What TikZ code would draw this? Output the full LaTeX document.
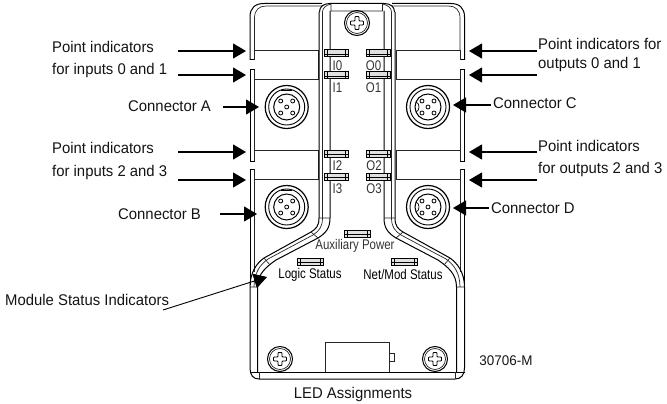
\documentclass[tikz,border=0pt]{standalone}
\usepackage{fontspec}
\setmainfont{Liberation Sans}
\newfontfamily\labfont[FakeStretch=0.96]{Liberation Sans}
\newfontfamily\devfont[FakeStretch=0.82]{Liberation Sans}
\usetikzlibrary{arrows.meta}
\tikzset{
  lab/.style={inner sep=0pt,font=\labfont\fontsize{15.5}{17}\selectfont,text=black!92},
  ldl/.style={lab,anchor=west},
  dev/.style={inner sep=0pt,font=\devfont\fontsize{14}{16}\selectfont,text=black!80},
  arr/.style={line width=1.1pt,-{Triangle[length=13pt,width=15pt]},shorten >=0pt},
  ln/.style={line width=.7pt,black!85},
  thk/.style={line width=1pt,black}
}
\newcommand{\ledbar}[4]{%
  \draw[line width=1pt,fill=black!12] (#1,#2) rectangle (#3,#4);
  \draw[line width=.7pt] (#1+3,#2) -- (#1+3,#4) (#3-3,#2) -- (#3-3,#4) (#1,{(#2+#4)/2+1}) -- (#3,{(#2+#4)/2+1});}
\newcommand{\screw}[2]{%
  \draw[thk] (#1,#2) circle (12.5);
  \draw[ln] (#1,#2) circle (10.5);
  \draw[line width=.9pt,fill=white,rounded corners=.8pt] (#1-2,#2-6.5) -- (#1+2,#2-6.5) -- (#1+2,#2-2) -- (#1+6.5,#2-2) -- (#1+6.5,#2+2) -- (#1+2,#2+2) -- (#1+2,#2+6.5) -- (#1-2,#2+6.5) -- (#1-2,#2+2) -- (#1-6.5,#2+2) -- (#1-6.5,#2-2) -- (#1-2,#2-2) -- cycle;}
\newcommand{\conn}[3]{%
  \draw[line width=1.2pt] (#1,#2) circle (21.5);
  \draw[line width=.9pt] (#1,#2) circle (18);
  \draw[line width=1pt] (#1,#2) circle (13);
  \foreach \dx/\dy in {0/0,-6/-6,6/-6,-6/6,6/6}{\draw[line width=.8pt] (#1+\dx,#2+\dy) circle (2);}
  #3}
\begin{document}
\begin{tikzpicture}[x=1pt,y=-1pt]
\useasboundingbox (0,0) rectangle (667,404);
% housing outline
\draw[thk] (250,60) -- (250,17) .. controls (250,8) and (255,3.5) .. (264,3.5) -- (322,3.5);
\draw[thk] (464.5,60) -- (464.5,17) .. controls (464.5,8) and (459.5,3.5) .. (450.5,3.5) -- (392,3.5);
\draw[ln] (254.5,50) -- (254.5,18) .. controls (254.5,10) and (259,6) .. (266,6) -- (322,6);
\draw[ln] (460,50) -- (460,18) .. controls (460,10) and (455.5,6) .. (448.5,6) -- (392,6);
% side notches
\draw[thk] (250,60) -- (254.5,60) (250,70) -- (254.5,70) (250,70) -- (250,161) -- (254.5,161) (250,169) -- (254.5,169) (250,169) -- (250,285);
\draw[ln] (254.5,60) -- (254.5,50) (254.5,70) -- (254.5,161) (254.5,169) -- (254.5,272);
\draw[thk] (464.5,60) -- (460,60) (464.5,70) -- (460,70) (464.5,70) -- (464.5,161) -- (460,161) (464.5,169) -- (460,169) (464.5,169) -- (464.5,285);
\draw[ln] (460,50) -- (460,60) (460,70) -- (460,161) (460,169) -- (460,272);
% panels
\draw[ln] (254.5,50) -- (318,50) -- (318,79) -- (254.5,79);
\draw[ln] (254.5,150) -- (318,150) -- (318,179.5) -- (254.5,179.5);
\draw[ln] (460,50) -- (396,50) -- (396,79) -- (460,79);
\draw[ln] (460,150) -- (396,150) -- (396,179.5) -- (460,179.5);
% centre strip
\draw[thk] (319.5,12) .. controls (319.5,7) and (323,3.5) .. (330,3.5) -- (384,3.5) .. controls (391,3.5) and (394.5,7) .. (394.5,12);
\draw[ln] (322.5,12) .. controls (322.5,8) and (326,5) .. (331,4) (331,4) -- (331,11) -- (382.5,11) -- (382.5,4) (382.5,4) .. controls (388,5) and (391.5,8) .. (391.5,12);
\draw[thk] (319,12) -- (319,218) .. controls (319,226) and (316,229) .. (311,232) -- (264,258) .. controls (257,263) and (250,272) .. (250,287);
\draw[ln] (322.5,12) -- (322.5,218);
\draw[thk] (330,11) -- (330,218) .. controls (330,228) and (326,233) .. (318,238) -- (276,260) .. controls (266,267) and (257.5,274) .. (257.5,287) -- (257.5,372);
\draw[ln] (322.5,218) .. controls (322.5,227) and (319,231) .. (313,235) -- (268,259) .. controls (261,264) and (254,272) .. (254,287);
\draw[ln] (319,218) -- (330,218) (250,287) -- (257.5,287) (311,232) -- (318,238);
\draw[ln] (264,258) -- (270,265);
\draw[thk] (395,12) -- (395,218) .. controls (395,226) and (398,229) .. (403,232) -- (450,258) .. controls (457,263) and (464.5,272) .. (464.5,287);
\draw[ln] (391.5,12) -- (391.5,218);
\draw[thk] (384,11) -- (384,218) .. controls (384,228) and (388,233) .. (396,238) -- (438,260) .. controls (448,267) and (456.5,274) .. (456.5,287) -- (456.5,372);
\draw[ln] (391.5,218) .. controls (391.5,227) and (395,231) .. (401,235) -- (446,259) .. controls (453,264) and (460,272) .. (460,287);
\draw[ln] (384,218) -- (395,218) (464.5,287) -- (456.5,287) (403,232) -- (396,238);
\draw[ln] (450,258) -- (444,265);
% bottom of housing
\draw[thk] (250,287) -- (250,368) .. controls (250,375) and (253,379) .. (259,379) -- (455,379) .. controls (461,379) and (464.5,375) .. (464.5,368) -- (464.5,287);
\draw[thk] (250,372) -- (464.5,372);
\draw[ln] (259,372) -- (259,379) (455,372) -- (455,379);
% label plate
\draw[ln] (325,372) -- (325,342.7) -- (389,342.7) -- (389,372);
\draw[ln] (389,353) rectangle (394,361);
% LEDs
\ledbar{324.5}{49.5}{348}{56.5}
\ledbar{324.5}{72}{348}{79}
\ledbar{366}{49.5}{390}{56.5}
\ledbar{366}{72}{390}{79}
\ledbar{324.5}{150}{348}{157}
\ledbar{324.5}{173}{348}{180}
\ledbar{366}{150}{390}{157}
\ledbar{366}{173}{390}{180}
\ledbar{344}{230}{370}{237.5}
\ledbar{297}{258}{323}{265}
\ledbar{391.5}{258}{417}{265}
% screws
\screw{357}{23}
\screw{280}{359}
\screw{435}{359}
% connectors
\conn{286.7}{107}{\draw[line width=.7pt] (281,90.5) -- (292,90.5);}
\conn{286.7}{207}{\draw[line width=.7pt] (281,190.5) -- (292,190.5);}
\conn{428}{107}{\draw[line width=.7pt] (416,102) .. controls (420,103) and (420,111) .. (416,112);}
\conn{428}{207}{\draw[line width=.7pt] (416,202) .. controls (420,203) and (420,211) .. (416,212);}
% device texts
\node[dev] (ti0) at (337.5,65.5) {I0};
\node[dev] (to0) at (373.5,65.5) {O0};
\node[dev] (ti1) at (337.5,87.5) {I1};
\node[dev] (to1) at (373.5,87.5) {O1};
\node[dev] (ti2) at (337.5,165.5) {I2};
\node[dev] (to2) at (374,165.5) {O2};
\node[dev] (ti3) at (337.5,188.5) {I3};
\node[dev] (to3) at (374,188.5) {O3};
\node[dev] (taux) at (355,245.5) {Auxiliary Power};
\node[dev,text=black] (tlog) at (310,274.5) {Logic Status};
\node[dev,text=black] (tnet) at (403,274.5) {Net/Mod Status};
% labels
\node[ldl] (p1a) at (52,47) {Point indicators};
\node[ldl] (p1b) at (52,70) {for inputs 0 and 1};
\node[ldl] (ca) at (128,106) {Connector A};
\node[ldl] (p2a) at (52,148) {Point indicators};
\node[ldl] (p2b) at (52,172) {for inputs 2 and 3};
\node[ldl] (cb) at (118,214) {Connector B};
\node[ldl] (p3a) at (538,44) {Point indicators for};
\node[ldl] (p3b) at (538,64) {outputs 0 and 1};
\node[ldl] (cc) at (493,103) {Connector C};
\node[ldl] (p4a) at (538,146) {Point indicators};
\node[ldl] (p4b) at (538,169) {for outputs 2 and 3};
\node[ldl] (cd) at (491,208) {Connector D};
\node[ldl] (msi) at (5,300) {Module Status Indicators};
\node[lab,font=\labfont\fontsize{14}{16}\selectfont] (fig) at (506,361) {30706-M};
\node[lab] (led) at (353,394) {LED Assignments};
% arrow ends
\coordinate (a1s) at (178,51); \coordinate (a1e) at (246,51);
\coordinate (a2s) at (178,75); \coordinate (a2e) at (246,75);
\coordinate (a3s) at (223,107); \coordinate (a3e) at (259,107);
\coordinate (a4s) at (178,152); \coordinate (a4e) at (246,152);
\coordinate (a5s) at (178,180); \coordinate (a5e) at (246,180);
\coordinate (a6s) at (220,214); \coordinate (a6e) at (257,214);
\coordinate (b1s) at (537,51); \coordinate (b1e) at (469,51);
\coordinate (b2s) at (537,75); \coordinate (b2e) at (469,75);
\coordinate (b3s) at (491,105); \coordinate (b3e) at (453,105);
\coordinate (b4s) at (537,152); \coordinate (b4e) at (469,152);
\coordinate (b5s) at (537,180); \coordinate (b5e) at (469,180);
\coordinate (b6s) at (489,208); \coordinate (b6e) at (453,208);
\coordinate (ms) at (163,310); \coordinate (me) at (267,277);
\foreach \s/\e in {a1s/a1e,a2s/a2e,a3s/a3e,a4s/a4e,a5s/a5e,a6s/a6e,b1s/b1e,b2s/b2e,b3s/b3e,b4s/b4e,b5s/b5e,b6s/b6e}{\draw[arr] (\s) -- (\e);}
\draw[arr,line width=.9pt] (ms) -- (me);
\end{tikzpicture}
\end{document}
